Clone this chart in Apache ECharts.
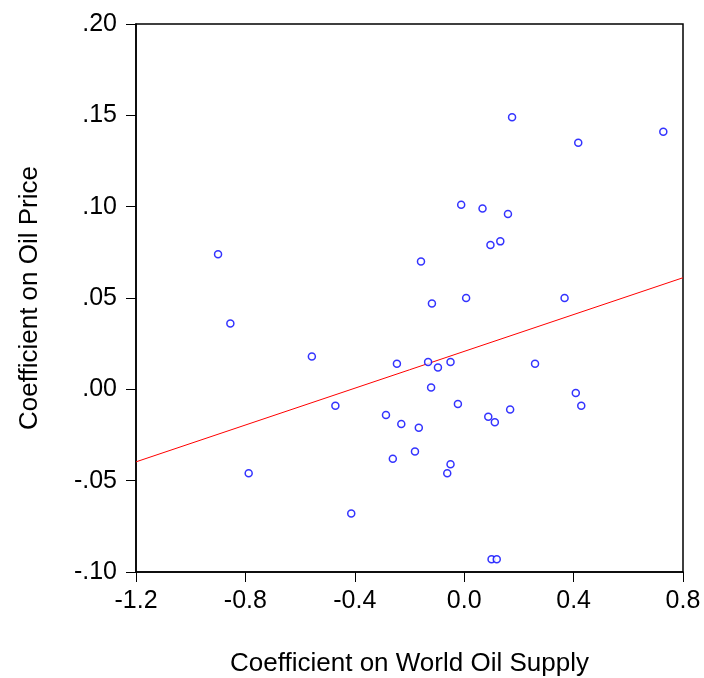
<!DOCTYPE html>
<html>
<head>
<meta charset="utf-8">
<script src="https://cdn.jsdelivr.net/npm/echarts@6/dist/echarts.min.js"></script>
<style>
    html, body { margin: 0; padding: 0; background: #fff; }
    #chart { width: 704px; height: 678px; }
</style>
</head>
<body>
<div id="chart"></div>
<script>
// coefficient on world oil supply (x) and on oil price (y), one entry per point
var supplyCoef = [
    0.175, 0.417, 0.728, -0.011, 0.067, 0.160, 0.096, 0.132, -0.158, 0.007,
    0.367, -0.900, -0.855, -0.557, -0.246, -0.471, -0.286, -0.230, -0.261, -0.788,
    -0.413, -0.118, -0.132, -0.096, -0.050, 0.259, -0.121, 0.408, 0.428, -0.023,
    0.168, 0.088, 0.112, -0.166, -0.180, -0.050, -0.062, 0.100, 0.119
];
var priceCoef = [
    0.149, 0.135, 0.141, 0.101, 0.099, 0.096, 0.079, 0.081, 0.070, 0.050,
    0.050, 0.074, 0.036, 0.018, 0.014, -0.009, -0.014, -0.019, -0.038, -0.046,
    -0.068, 0.047, 0.015, 0.012, 0.015, 0.014, 0.001, -0.002, -0.009, -0.008,
    -0.011, -0.015, -0.018, -0.021, -0.034, -0.041, -0.046, -0.093, -0.093
];

// fitted line end points
var fitX = [-1.2, 0.8];
var fitY = [-0.0397, 0.0611];

var xTicks = ['-1.2', '-0.8', '-0.4', '0.0', '0.4', '0.8'];
var yTicks = ['-.10', '-.05', '.00', '.05', '.10', '.15', '.20'];

var chart = echarts.init(document.getElementById('chart'));

var points = [];
for (var i = 0; i < supplyCoef.length; i++) {
    points.push([supplyCoef[i], priceCoef[i]]);
}
var fitLine = [];
for (var j = 0; j < fitX.length; j++) {
    fitLine.push([fitX[j], fitY[j]]);
}

var font = '"Liberation Sans", Arial, sans-serif';

var option = {
    backgroundColor: '#fff',
    animation: false,
    grid: {
        left: 136,
        top: 24,
        right: 21,
        bottom: 106,
        outerBoundsMode: 'none',
        containLabel: false,
        show: true,
        borderColor: '#000',
        borderWidth: 1.5,
        backgroundColor: '#fff'
    },
    xAxis: {
        type: 'value',
        min: -1.2,
        max: 0.8,
        interval: 0.4,
        name: 'Coefficient on World Oil Supply',
        nameLocation: 'middle',
        nameGap: 79,
        nameTextStyle: { fontFamily: font, fontSize: 26, color: '#000' },
        axisLine: { show: true, onZero: false, lineStyle: { color: '#000', width: 1.5 } },
        axisTick: { show: true, inside: false, length: 10, lineStyle: { color: '#000' } },
        axisLabel: {
            margin: 17,
            fontFamily: font,
            fontSize: 25,
            color: '#000',
            formatter: function(v) {
                var idx = Math.round((v + 1.2) / 0.4);
                return xTicks[idx];
            }
        },
        splitLine: { show: false }
    },
    yAxis: {
        type: 'value',
        min: -0.1,
        max: 0.2,
        interval: 0.05,
        name: 'Coefficient on Oil Price',
        nameLocation: 'middle',
        nameGap: 93,
        nameTextStyle: { fontFamily: font, fontSize: 26, color: '#000' },
        axisLine: { show: true, onZero: false, lineStyle: { color: '#000', width: 1.5 } },
        axisTick: { show: true, inside: false, length: 10, lineStyle: { color: '#000' } },
        axisLabel: {
            margin: 19,
            fontFamily: font,
            fontSize: 25,
            color: '#000',
            formatter: function(v) {
                var idx = Math.round((v + 0.1) / 0.05);
                return yTicks[idx];
            }
        },
        splitLine: { show: false }
    },
    series: [
        {
            type: 'line',
            data: fitLine,
            symbol: 'none',
            lineStyle: { color: '#ff0000', width: 1 },
            z: 2
        },
        {
            type: 'scatter',
            data: points,
            symbol: 'circle',
            symbolSize: 7,
            itemStyle: { color: '#fff', borderColor: '#0000ff', borderWidth: 1.5 },
            z: 3
        }
    ]
};

chart.setOption(option);
</script>
</body>
</html>
